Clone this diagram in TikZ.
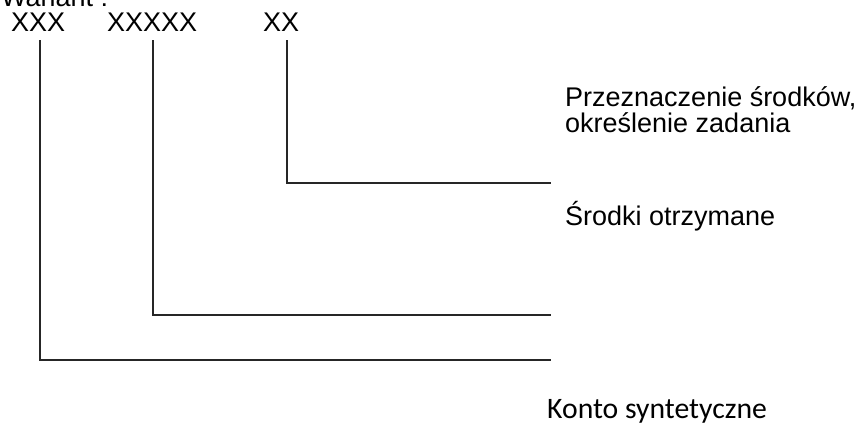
\documentclass[tikz,border=0pt]{standalone}
\usepackage{fontspec}
\setmainfont{Liberation Sans}
\newfontfamily\kontofont{Carlito}
\usetikzlibrary{positioning}

\begin{document}
\begin{tikzpicture}[x=1pt, y=-1pt,
        code/.style = {font = \fontsize{27}{27}\selectfont, inner sep = 0pt, anchor = base west},
        desc/.style = {font = \fontsize{27}{26}\selectfont, inner sep = 0pt, anchor = base west, align = left},
        link/.style = {draw = black!85, line width = 1.5pt}]
    \useasboundingbox (0,0) rectangle (856,423);

    \node [code] (W) at (1,6) {Wariant :};
    \node [code] (S) at (11,31) {XXX};
    \node [code] (A) at (107,31) {XXXXX};
    \node [code] (Z) at (263,31) {XX};

    \node [desc] (P) at (565,132) {Przeznaczenie środków,\\[0pt]określenie zadania};
    \node [desc] (R) at (565,225) {Środki otrzymane};
    \node [desc, font = \kontofont\fontsize{29.7}{30}\selectfont] (K) at (547,418) {Konto syntetyczne};

    % lines
    \coordinate (Stop) at (40,40);
    \coordinate (Atop) at (153,40);
    \coordinate (Ztop) at (287,40);
    \coordinate (Zend) at (551,183);
    \coordinate (Aend) at (551,315);
    \coordinate (Send) at (551,360);

    \path [link]
        (Ztop) |- (Zend)
        (Atop) |- (Aend)
        (Stop) |- (Send);
\end{tikzpicture}
\end{document}
